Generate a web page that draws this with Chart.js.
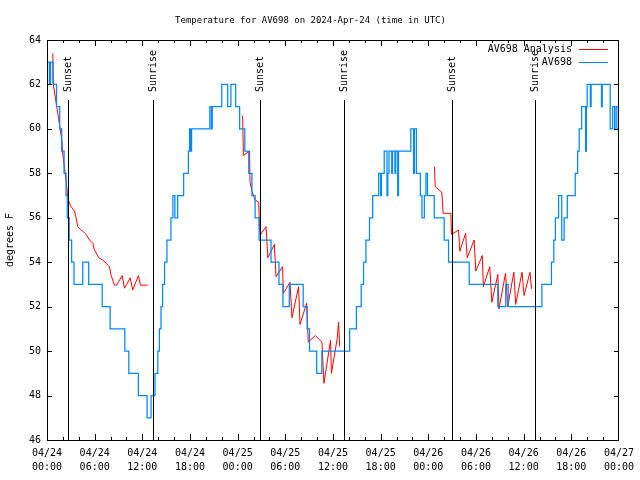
<!DOCTYPE html>
<html>
<head>
<meta charset="utf-8">
<script src="https://cdn.jsdelivr.net/npm/chart.js@4/dist/chart.umd.min.js"></script>
<style>
body { margin: 0; background: #fff; }
canvas { display: block; }
</style>
</head>
<body>
<canvas id="tempChart" width="640" height="480"></canvas>
<script>
// hours since 04/24 00:00 UTC
var av698Hours = [0, 0.3, 0.45, 0.75, 1.2, 1.6, 1.85, 2.15, 2.4, 2.55, 2.8, 3.1, 3.4, 4.5, 5.25, 6.95, 7.95, 9.8,
    10.3, 11.5, 12.6, 13.1, 13.6, 13.95, 14.15, 14.35, 14.55, 14.8, 15.1, 15.6, 15.85, 16.1, 16.45, 17.2, 17.8, 17.95, 18.1, 18.2,
    20.5, 20.7, 20.8, 22.0, 22.75, 23.15, 23.75, 24.25, 24.9, 25.4, 25.8, 26.2, 26.7, 28.2, 29.2, 29.7, 30.5, 32.25,
    32.75, 33.05, 33.95, 34.6, 38.1, 38.95, 39.55, 39.85, 40.15, 40.6, 41.0, 41.75, 42.0, 42.1, 42.45, 42.8, 42.9, 43.05, 43.4, 43.5,
    43.8, 43.9, 44.15, 44.25, 45.8, 46.15, 46.25, 46.5, 47.0, 47.2, 47.5, 47.7, 47.9, 48.75, 50.0, 50.55, 53.15,
    56.75, 57.75, 58.05, 62.3, 63.5, 63.8, 64.0, 64.4, 64.8, 65.1, 65.5, 66.5, 66.8, 67.0, 67.3, 67.8, 67.9, 68.0, 68.4, 68.5, 69.8, 69.9,
    70.9, 71.2, 71.45, 71.65, 71.9, 72];
var av698Temps = [63, 62, 63, 62, 61, 60, 59, 58, 57, 56, 55, 54, 53, 54, 53, 52, 51, 50,
    49, 48, 47, 48, 49, 50, 51, 52, 53, 54, 55, 56, 57, 56, 57, 58, 59, 60, 59, 60,
    61, 60, 61, 62, 61, 62, 61, 60, 59, 58, 57, 56, 55, 54, 53, 52, 53, 52,
    51, 50, 49, 50, 51, 52, 53, 54, 55, 56, 57, 58, 57, 58, 59, 57, 58, 59, 58, 59,
    58, 59, 57, 59, 60, 58, 60, 58, 57, 56, 57, 58, 57, 56, 55, 54, 53,
    52, 53, 52, 53, 54, 55, 56, 57, 55, 56, 57, 58, 59, 60, 61, 59, 61, 62, 61, 62, 61, 62,
    60, 61, 60, 61, 60, 59];

// analysis series, null = gap
var analysisHours = [0.73, 0.8, 1.4, 1.65, 1.87, 2.0, 2.15, 2.4, 2.62, 2.83, 3.04, 3.46, 3.67, 3.87, 4.3, 4.63, 4.93, 5.35, 5.76, 5.97,
    6.52, 7.02, 7.45, 7.86, 8.08, 8.28, 8.49, 8.78, 9.46, 9.75, 10.04, 10.47, 10.79, 11.51, 11.76, 12.68, 18,
    24.63, 24.72, 25.5, 25.56, 25.8, 26.2, 26.65, 26.75, 26.9, 27.57, 27.8, 28.62, 28.83, 29.66, 29.75, 30.59, 30.84, 31.67, 31.85,
    32.68, 32.89, 33.77, 34.62, 34.86, 35.7, 35.8, 36.55, 36.7, 36.85, 42,
    48.78, 48.87, 49.7, 49.87, 50.84, 50.92, 51.8, 51.97, 52.7, 52.9, 53.77, 53.98, 54.8, 54.93, 55.74, 56.0, 56.75, 56.9, 57.72, 58.0,
    58.77, 59.0, 59.8, 60.06, 60.8, 61.0];
var analysisTemps = [63.4, 62.0, 60.6, 60.0, 59.5, 58.8, 58.4, 57.7, 56.9, 56.65, 56.5, 56.3, 56.0, 55.6, 55.45, 55.35, 55.25, 55.0, 54.85, 54.55,
    54.2, 54.1, 53.95, 53.8, 53.4, 53.2, 52.97, 52.97, 53.4, 52.83, 53.0, 53.3, 52.75, 53.4, 52.97, 52.97, null,
    60.6, 58.8, 59.0, 57.6, 57.2, 56.8, 56.7, 55.5, 55.25, 55.6, 54.2, 54.8, 53.35, 53.8, 52.6, 53.1, 51.5, 52.9, 51.2,
    52.15, 50.4, 50.7, 50.4, 48.55, 50.5, 49.0, 50.6, 51.3, 50.2, null,
    58.3, 57.4, 57.15, 56.2, 56.2, 55.25, 55.45, 54.5, 55.3, 54.2, 55.0, 53.6, 54.3, 52.9, 53.8, 52.2, 53.45, 51.9, 53.5, 52.0,
    53.55, 52.1, 53.55, 52.5, 53.55, 52.8];

var sunHours = [2.62, 13.31, 26.77, 37.34, 50.93, 61.49];
var sunLabels = ['Sunset', 'Sunrise', 'Sunset', 'Sunrise', 'Sunset', 'Sunrise'];

var tickDates = ['04/24', '04/24', '04/24', '04/24', '04/25', '04/25', '04/25', '04/25', '04/26', '04/26', '04/26', '04/26', '04/27'];
var tickTimes = ['00:00', '06:00', '12:00', '18:00', '00:00', '06:00', '12:00', '18:00', '00:00', '06:00', '12:00', '18:00', '00:00'];

const FONT = '10px "DejaVu Sans Mono"';
Chart.defaults.font.family = '"DejaVu Sans Mono"';
Chart.defaults.font.size = 10;
Chart.defaults.color = '#000';

// frame, inward ticks, sunrise/sunset markers and the key
const decorations = {
    id: 'decorations',
    afterDatasetsDraw(chart) {
        const ctx = chart.ctx;
        const a = chart.chartArea;
        const x = chart.scales.x, y = chart.scales.y;
        ctx.save();
        ctx.strokeStyle = '#000';
        ctx.fillStyle = '#000';
        ctx.lineWidth = 1;
        ctx.font = FONT;

        sunHours.forEach(function(h, i) {
            const px = Math.round(x.getPixelForValue(h)) + 0.5;
            ctx.beginPath();
            ctx.moveTo(px, a.bottom - 0.85 * (a.bottom - a.top));
            ctx.lineTo(px, a.bottom);
            ctx.stroke();
            ctx.save();
            ctx.translate(px, a.bottom - 0.87 * (a.bottom - a.top));
            ctx.rotate(-Math.PI / 2);
            ctx.textAlign = 'left';
            ctx.textBaseline = 'middle';
            ctx.fillText(sunLabels[i], 0, 0);
            ctx.restore();
        });

        ctx.beginPath();
        for (let h = 2; h < 72; h += 2) {
            const px = Math.round(x.getPixelForValue(h)) + 0.5;
            const len = h % 6 === 0 ? 6 : 3;
            ctx.moveTo(px, a.bottom); ctx.lineTo(px, a.bottom - len);
            ctx.moveTo(px, a.top); ctx.lineTo(px, a.top + len);
        }
        for (let v = 48; v < 64; v += 2) {
            const py = Math.round(y.getPixelForValue(v)) + 0.5;
            ctx.moveTo(a.left, py); ctx.lineTo(a.left + 5, py);
            ctx.moveTo(a.right, py); ctx.lineTo(a.right - 5, py);
        }
        ctx.stroke();
        ctx.strokeRect(Math.round(a.left) + 0.5, Math.round(a.top) + 0.5,
            Math.round(a.width) - 1, Math.round(a.height));

        // key
        const rows = chart.data.datasets.slice().sort(function(p, q) { return q.order - p.order; });
        rows.forEach(function(ds, i) {
            const ky = Math.round(a.top + 9 + i * 13) + 0.5;
            ctx.textAlign = 'right';
            ctx.textBaseline = 'middle';
            ctx.fillStyle = '#000';
            ctx.fillText(ds.label, a.right - 47, ky);
            ctx.strokeStyle = ds.borderColor;
            ctx.beginPath();
            ctx.moveTo(a.right - 40, ky);
            ctx.lineTo(a.right - 11, ky);
            ctx.stroke();
        });
        ctx.restore();
    }
};

const ctx = document.getElementById('tempChart').getContext('2d');
new Chart(ctx, {
    type: 'line',
    data: {
        datasets: [{
            label: 'AV698',
            data: av698Hours.map((h, i) => ({ x: h, y: av698Temps[i] })),
            borderColor: '#0088ff',
            borderWidth: 1.25,
            pointRadius: 0,
            stepped: true,
            order: 0
        }, {
            label: 'AV698 Analysis',
            data: analysisHours.map((h, i) => ({ x: h, y: analysisTemps[i] })),
            borderColor: '#ff0000',
            borderWidth: 1,
            pointRadius: 0,
            spanGaps: false,
            order: 1
        }]
    },
    options: {
        responsive: false,
        animation: false,
        layout: { padding: { left: 0, right: 19, top: 0, bottom: 0 } },
        plugins: {
            legend: { display: false },
            tooltip: { enabled: false },
            title: {
                display: true,
                text: 'Temperature for AV698 on 2024-Apr-24 (time in UTC)',
                font: { size: 9, weight: 'normal', lineHeight: 1.2 },
                color: '#000',
                padding: { top: 15, bottom: 14.2 }
            }
        },
        scales: {
            x: {
                type: 'linear',
                min: 0,
                max: 72,
                afterFit: function(s) { s.height = 40; },
                grid: { display: false, drawTicks: false },
                border: { display: false },
                ticks: {
                    stepSize: 6,
                    autoSkip: false,
                    maxRotation: 0,
                    minRotation: 0,
                    padding: 6,
                    font: { lineHeight: 1.4 },
                    callback: function(v) {
                        const i = Math.round(v / 6);
                        return [tickDates[i], tickTimes[i]];
                    }
                }
            },
            y: {
                min: 46,
                max: 64,
                afterFit: function(s) { s.width = 47; },
                grid: { display: false, drawTicks: false },
                border: { display: false },
                ticks: { stepSize: 2, padding: 6 },
                title: { display: true, text: 'degrees F', padding: { top: 4, bottom: 0 } }
            }
        }
    },
    plugins: [decorations]
});
</script>
</body>
</html>
